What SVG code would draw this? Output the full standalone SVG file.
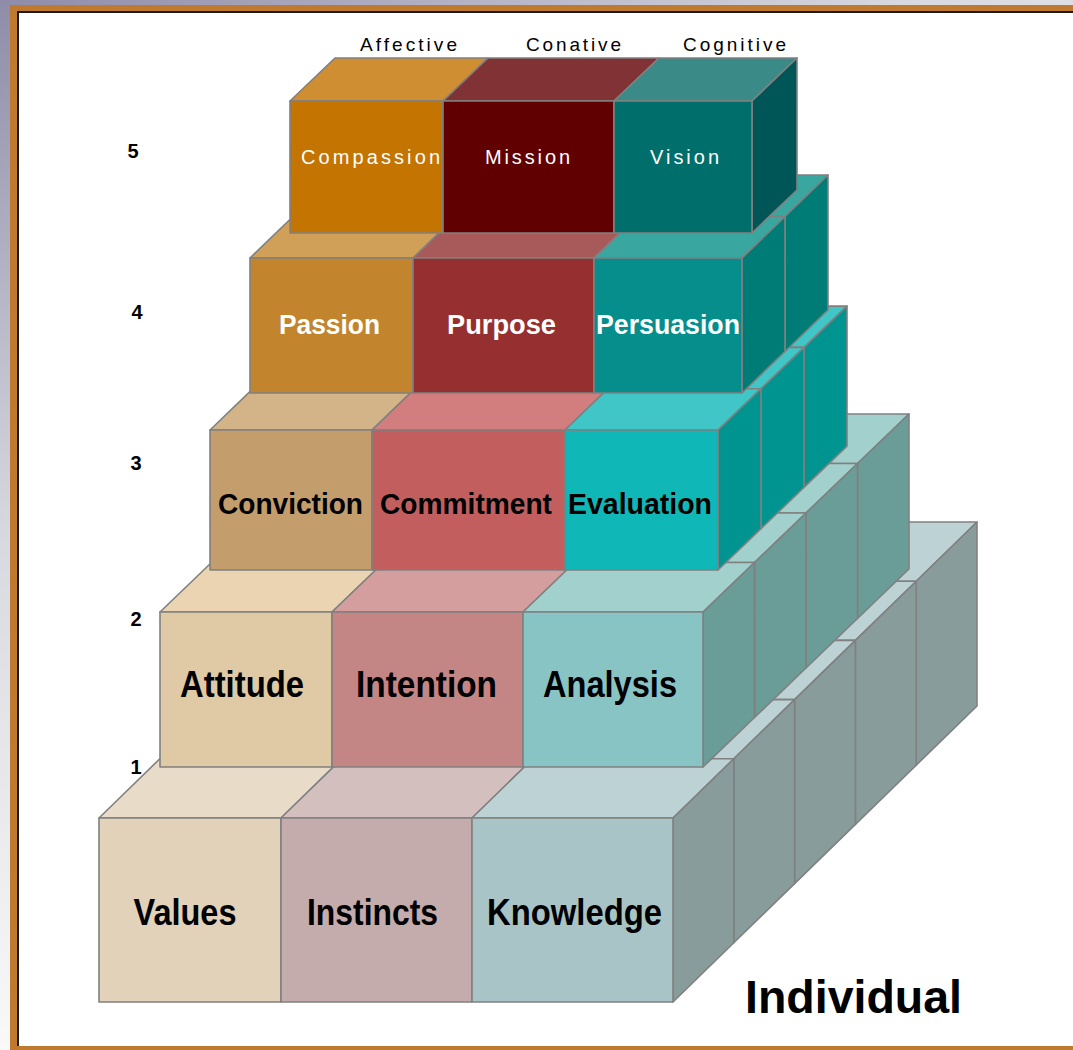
<svg xmlns="http://www.w3.org/2000/svg" xmlns:xlink="http://www.w3.org/1999/xlink" width="1073" height="1050" viewBox="0 0 1073 1050">
<defs>
<linearGradient id="bg" x1="0" y1="0" x2="0.45" y2="0.75">
<stop offset="0" stop-color="#8e8ca8"/>
<stop offset="0.5" stop-color="#d8d8e0"/>
<stop offset="1" stop-color="#fafafa"/>
</linearGradient>
<style>
.f{stroke:#808080;stroke-width:1.6;stroke-linejoin:round}
.lbl{font-family:"Liberation Sans",Arial,sans-serif;font-weight:bold;text-anchor:middle}
.pix{font-family:"Liberation Sans",Arial,sans-serif;text-anchor:middle}
.num{font-family:"Liberation Sans",Arial,sans-serif;font-weight:bold;font-size:20px;text-anchor:middle;fill:#000}
</style>
<!-- Level 1 row -->
<g id="r1">
<polygon class="f" fill="#e8dcc8" points="99,818 281,818 341.8,758.8 159.8,758.8"/>
<polygon class="f" fill="#d4bfbf" points="281,818 472,818 532.8,758.8 341.8,758.8"/>
<polygon class="f" fill="#bcd2d4" points="472,818 673,818 733.8,758.8 532.8,758.8"/>
<polygon class="f" fill="#889c9c" points="673,818 733.8,758.8 733.8,942.8 673,1002"/>
</g>
<g id="r2">
<polygon class="f" fill="#ead4b2" points="160,612 332,612 383.5,562.5 211.5,562.5"/>
<polygon class="f" fill="#d49e9e" points="332,612 523,612 574.5,562.5 383.5,562.5"/>
<polygon class="f" fill="#a2d0cc" points="523,612 703,612 754.5,562.5 574.5,562.5"/>
<polygon class="f" fill="#6a9c98" points="703,612 754.5,562.5 754.5,717.5 703,767"/>
</g>
<g id="r3">
<polygon class="f" fill="#d2b488" points="210,430 372,430 415,388.7 253,388.7"/>
<polygon class="f" fill="#d27e7e" points="372,430 565,430 608,388.7 415,388.7"/>
<polygon class="f" fill="#40c6c6" points="565,430 718,430 761,388.7 608,388.7"/>
<polygon class="f" fill="#009490" points="718,430 761,388.7 761,528.7 718,570"/>
</g>
<g id="r4">
<polygon class="f" fill="#d0a058" points="250,258 413,258 456,216.5 293,216.5"/>
<polygon class="f" fill="#a85a5a" points="413,258 594,258 637,216.5 456,216.5"/>
<polygon class="f" fill="#3aa6a0" points="594,258 742,258 785,216.5 637,216.5"/>
<polygon class="f" fill="#007c76" points="742,258 785,216.5 785,351.5 742,393"/>
</g>
<g id="r5">
<polygon class="f" fill="#d08e32" points="290,101 443,101 488,58 335,58"/>
<polygon class="f" fill="#803234" points="443,101 614,101 659,58 488,58"/>
<polygon class="f" fill="#3a8a88" points="614,101 752,101 797,58 659,58"/>
<polygon class="f" fill="#005656" points="752,101 797,58 797,190 752,233"/>
</g>
</defs>

<rect x="0" y="0" width="1073" height="1050" fill="url(#bg)"/>
<rect x="10" y="5" width="1100" height="1045" fill="#c07a30"/>
<rect x="17" y="11" width="1100" height="1035" fill="#1a1a1a"/>
<rect x="19" y="13" width="1100" height="1033" fill="#ffffff"/>

<g id="level1">
<use xlink:href="#r1" transform="translate(243.2,-236.8)"/>
<use xlink:href="#r1" transform="translate(182.4,-177.6)"/>
<use xlink:href="#r1" transform="translate(121.6,-118.4)"/>
<use xlink:href="#r1" transform="translate(60.8,-59.2)"/>
<use xlink:href="#r1"/>
<g id="values"><rect class="f" fill="#e2d2ba" x="99" y="818" width="182" height="184"/><text class="lbl" x="185" y="925" font-size="36" textLength="103" lengthAdjust="spacingAndGlyphs">Values</text></g>
<g id="instincts"><rect class="f" fill="#c4acac" x="281" y="818" width="191" height="184"/><text class="lbl" x="372.5" y="925" font-size="36" textLength="131" lengthAdjust="spacingAndGlyphs">Instincts</text></g>
<g id="knowledge"><rect class="f" fill="#a9c4c6" x="472" y="818" width="201" height="184"/><text class="lbl" x="574.5" y="925" font-size="36" textLength="175" lengthAdjust="spacingAndGlyphs">Knowledge</text></g>
</g>

<g id="level2">
<use xlink:href="#r2" transform="translate(154.5,-148.5)"/>
<use xlink:href="#r2" transform="translate(103,-99)"/>
<use xlink:href="#r2" transform="translate(51.5,-49.5)"/>
<use xlink:href="#r2"/>
<g id="attitude"><rect class="f" fill="#e0c9a5" x="160" y="612" width="172" height="155"/><text class="lbl" x="242" y="697" font-size="36" textLength="124" lengthAdjust="spacingAndGlyphs">Attitude</text></g>
<g id="intention"><rect class="f" fill="#c48585" x="332" y="612" width="191" height="155"/><text class="lbl" x="426.5" y="697" font-size="36" textLength="141" lengthAdjust="spacingAndGlyphs">Intention</text></g>
<g id="analysis"><rect class="f" fill="#89c4c4" x="523" y="612" width="180" height="155"/><text class="lbl" x="610" y="697" font-size="36" textLength="134" lengthAdjust="spacingAndGlyphs">Analysis</text></g>
</g>

<g id="level3">
<use xlink:href="#r3" transform="translate(86,-82.6)"/>
<use xlink:href="#r3" transform="translate(43,-41.3)"/>
<use xlink:href="#r3"/>
<g id="conviction"><rect class="f" fill="#c49d6c" x="210" y="430" width="162" height="140"/><text class="lbl" x="290.5" y="514" font-size="29" textLength="145" lengthAdjust="spacingAndGlyphs">Conviction</text></g>
<g id="commitment"><rect class="f" fill="#c25e5e" x="372" y="430" width="193" height="140"/><text class="lbl" x="466" y="514" font-size="29" textLength="172" lengthAdjust="spacingAndGlyphs">Commitment</text></g>
<g id="evaluation"><rect class="f" fill="#0fb8b6" x="565" y="430" width="153" height="140"/><text class="lbl" x="640" y="514" font-size="29" textLength="144" lengthAdjust="spacingAndGlyphs">Evaluation</text></g>
</g>

<g id="level4">
<use xlink:href="#r4" transform="translate(43,-41.5)"/>
<use xlink:href="#r4"/>
<g id="passion"><rect class="f" fill="#c2852e" x="250" y="258" width="163" height="135"/><text class="lbl" x="329.5" y="334" font-size="27" fill="#ffffff" textLength="101" lengthAdjust="spacingAndGlyphs">Passion</text></g>
<g id="purpose"><rect class="f" fill="#962f30" x="413" y="258" width="181" height="135"/><text class="lbl" x="501.5" y="334" font-size="27" fill="#ffffff" textLength="109" lengthAdjust="spacingAndGlyphs">Purpose</text></g>
<g id="persuasion"><rect class="f" fill="#058e8c" x="594" y="258" width="148" height="135"/><text class="lbl" x="668" y="334" font-size="27" fill="#ffffff" textLength="144" lengthAdjust="spacingAndGlyphs">Persuasion</text></g>
</g>

<g id="level5">
<use xlink:href="#r5"/>
<g id="compassion"><rect class="f" fill="#c47400" x="290" y="101" width="153" height="132"/><text class="pix" x="370.5" y="164" font-size="20" fill="#ffffff" textLength="139" lengthAdjust="spacing">Compassion</text></g>
<g id="mission"><rect class="f" fill="#600000" x="443" y="101" width="171" height="132"/><text class="pix" x="527.5" y="164" font-size="20" fill="#ffffff" textLength="85" lengthAdjust="spacing">Mission</text></g>
<g id="vision"><rect class="f" fill="#006e6a" x="614" y="101" width="138" height="132"/><text class="pix" x="684.5" y="164" font-size="20" fill="#ffffff" textLength="69" lengthAdjust="spacing">Vision</text></g>
</g>

<g id="headers" fill="#000">
<text class="pix" x="408.5" y="51" font-size="19" textLength="97" lengthAdjust="spacing">Affective</text>
<text class="pix" x="573.5" y="51" font-size="19" textLength="95" lengthAdjust="spacing">Conative</text>
<text class="pix" x="734.5" y="51" font-size="19" textLength="103" lengthAdjust="spacing">Cognitive</text>
</g>

<g id="levels">
<text class="num" x="133" y="158">5</text>
<text class="num" x="137" y="319">4</text>
<text class="num" x="136" y="470">3</text>
<text class="num" x="136" y="626">2</text>
<text class="num" x="136" y="774">1</text>
</g>

<text id="individual" class="lbl" x="853.5" y="1013" font-size="46" fill="#000" textLength="217" lengthAdjust="spacingAndGlyphs">Individual</text>
</svg>
